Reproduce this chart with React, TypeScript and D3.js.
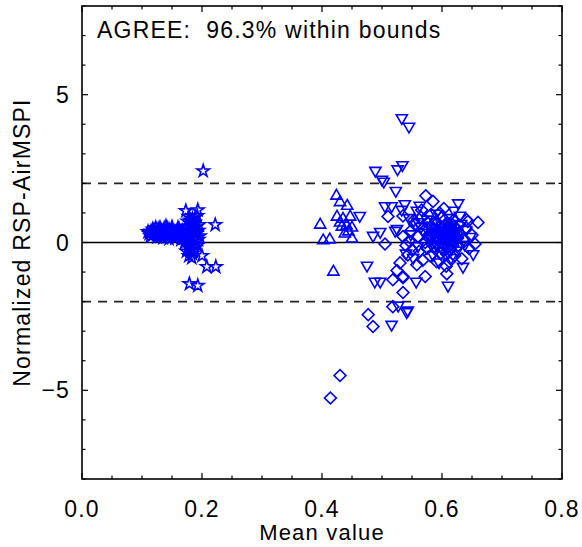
import React from 'react';
import * as d3 from 'd3';

// RSP vs AirMSPI normalized differences
const starPts: [number, number][] = [
  [0.112, 0.30], [0.115, 0.38], [0.118, 0.25], [0.120, 0.42], [0.122, 0.33], [0.125, 0.28],
  [0.127, 0.45], [0.129, 0.36], [0.131, 0.22], [0.133, 0.40], [0.135, 0.31], [0.137, 0.48],
  [0.139, 0.27], [0.141, 0.38], [0.143, 0.19], [0.145, 0.44], [0.147, 0.33], [0.149, 0.25],
  [0.151, 0.40], [0.153, 0.30], [0.155, 0.36], [0.157, 0.22], [0.159, 0.42], [0.161, 0.28],
  [0.163, 0.35], [0.165, 0.18], [0.167, 0.40], [0.169, 0.30], [0.171, 0.24], [0.160, 0.50],
  [0.150, 0.52], [0.140, 0.55], [0.130, 0.50], [0.145, 0.12], [0.155, 0.14], [0.165, 0.10],
  [0.135, 0.16], [0.125, 0.18], [0.118, 0.45], [0.110, 0.36], [0.114, 0.22], [0.123, 0.50],
  [0.132, 0.30], [0.142, 0.48], [0.152, 0.20], [0.158, 0.32], [0.162, 0.45], [0.168, 0.15],
  [0.173, 0.55], [0.176, 0.72], [0.178, 0.88], [0.180, 0.45], [0.182, 0.62], [0.184, 0.80],
  [0.186, 0.35], [0.188, 0.68], [0.190, 0.52], [0.192, 0.90], [0.194, 0.40], [0.196, 0.22],
  [0.175, 0.10], [0.178, 0.00], [0.180, -0.12], [0.182, -0.25], [0.184, -0.38], [0.186, -0.05],
  [0.188, -0.20], [0.190, 0.05], [0.192, -0.10], [0.178, -0.45], [0.183, -0.52], [0.174, -0.30],
  [0.187, 0.15], [0.194, 0.10], [0.171, 0.00], [0.176, 0.30], [0.191, 0.30], [0.179, 0.20],
  [0.185, 0.55], [0.181, 0.75], [0.189, 0.85], [0.177, -0.15], [0.185, -0.30], [0.195, 0.60],
  [0.202, 2.42], [0.173, 1.07], [0.193, 1.10], [0.222, 0.60], [0.200, -0.45], [0.208, -0.82],
  [0.223, -0.82], [0.179, -1.40], [0.193, -1.46],
];

const upTriPts: [number, number][] = [
  [0.424, 1.61], [0.430, 1.39], [0.442, 1.27], [0.397, 0.63], [0.425, 0.90], [0.435, 0.83],
  [0.447, 0.90], [0.433, 0.56], [0.441, 0.60], [0.450, 0.53], [0.438, 0.33], [0.402, 0.10],
  [0.413, 0.13], [0.450, 0.16], [0.419, -0.96], [0.430, 0.70], [0.444, 0.40],
];

const downTriPts: [number, number][] = [
  [0.533, 4.18], [0.545, 3.89], [0.534, 2.59], [0.526, 2.45], [0.489, 2.40], [0.500, 2.10],
  [0.503, 2.03], [0.523, 1.72], [0.505, 1.20], [0.516, 1.20], [0.538, 1.27], [0.533, 1.08],
  [0.563, 1.22], [0.627, 1.30], [0.630, 0.88], [0.463, 0.87], [0.485, 0.20], [0.497, 0.33],
  [0.522, 0.37], [0.475, -0.81], [0.488, -1.35], [0.497, -1.35], [0.557, -1.35], [0.610, -1.49],
  [0.543, -2.33], [0.516, -2.81], [0.527, -2.16], [0.635, -0.85], [0.652, -0.42], [0.647, 0.16],
  [0.541, -2.38], [0.525, 0.43], [0.558, 1.05], [0.560, 0.66],
  [0.575, 0.75], [0.590, 0.95], [0.600, 0.55], [0.612, 0.80], [0.620, 0.35], [0.605, -0.20],
  [0.585, -0.45], [0.595, -0.70], [0.615, -0.55], [0.625, -0.30], [0.570, 0.30], [0.560, -0.15],
  [0.580, 0.10], [0.632, 0.60], [0.640, 0.40], [0.638, -0.10], [0.600, 0.20], [0.590, -0.10],
  [0.565, 0.50], [0.548, 0.25], [0.552, -0.55], [0.540, -0.40], [0.545, 0.80], [0.620, 1.05],
  [0.610, 0.05],
];

const diamondPts: [number, number][] = [
  [0.414, -5.26], [0.430, -4.50], [0.477, -2.44], [0.485, -2.84], [0.518, -2.17], [0.535, -1.69],
  [0.518, -1.26], [0.535, -1.19], [0.572, -1.15], [0.573, 1.58], [0.585, 1.39], [0.510, 0.88],
  [0.535, 0.90], [0.505, -0.05], [0.535, 0.20], [0.530, -0.69], [0.543, -0.42], [0.608, -1.06],
  [0.643, 0.71], [0.660, 0.68], [0.641, 0.77], [0.535, -1.15], [0.525, -0.95],
  [0.555, 0.60], [0.560, 0.20], [0.562, -0.30], [0.565, 0.85], [0.568, -0.60], [0.570, 0.40],
  [0.572, 0.00], [0.575, -0.20], [0.577, 0.65], [0.579, 0.25], [0.580, -0.45], [0.582, 0.95],
  [0.584, 0.10], [0.586, 0.45], [0.588, -0.15], [0.590, 0.70], [0.591, -0.65], [0.593, 0.30],
  [0.595, 0.05], [0.597, 0.55], [0.598, -0.35], [0.600, 0.85], [0.602, 0.15], [0.604, -0.05],
  [0.606, 0.40], [0.607, -0.80], [0.609, 0.65], [0.611, 0.25], [0.613, -0.25], [0.615, 0.50],
  [0.617, 0.00], [0.619, 0.75], [0.621, -0.45], [0.623, 0.20], [0.625, 0.45], [0.627, -0.10],
  [0.630, 0.30], [0.633, -0.55], [0.636, 0.10], [0.640, 0.50], [0.645, -0.20], [0.650, 0.25],
  [0.655, -0.05], [0.585, 0.50], [0.595, 0.35], [0.605, 0.60], [0.615, 0.30], [0.600, -0.20],
  [0.590, 0.20], [0.610, 0.10], [0.620, 0.40], [0.580, 0.30], [0.575, 0.50], [0.598, 0.00],
  [0.608, -0.40], [0.618, -0.10], [0.628, 0.60], [0.550, -0.25], [0.548, 0.40], [0.558, -0.75],
  [0.545, 0.05], [0.540, -0.10], [0.553, 0.75], [0.566, 1.10], [0.596, 1.00], [0.612, -0.65],
  [0.603, 1.15],
  [0.592, 0.42], [0.594, 0.15], [0.599, 0.28], [0.601, 0.48], [0.603, 0.33], [0.606, 0.20],
  [0.608, 0.50], [0.610, 0.35], [0.612, 0.45], [0.614, 0.12], [0.616, 0.62], [0.618, 0.22],
  [0.620, 0.55], [0.622, 0.05], [0.624, 0.32], [0.587, 0.28], [0.589, 0.60], [0.597, -0.12],
  [0.604, -0.25], [0.611, -0.15], [0.619, 0.10], [0.626, 0.15], [0.583, -0.05], [0.578, 0.15],
];

const xMajor = [0, 0.2, 0.4, 0.6, 0.8];
const yMajor = [-5, 0, 5];
const bounds = [-2, 2];
const agreeText = 'AGREE:  96.3% within bounds';

const W = 582, H = 547;
const left = 82, right = 562, top = 6, bottom = 479;
const blue = '#0000ff';
const font = '"Liberation Sans", Arial, Helvetica, sans-serif';

export default function App() {
  const x = d3.scaleLinear().domain([0, 0.8]).range([left, right]);
  const y = d3.scaleLinear().domain([-8, 8]).range([bottom, top]);

  const xMinor = d3.range(0, 0.8001, 0.05);
  const yMinor = d3.range(-8, 8.001, 1);

  const star = d3.symbol().type(d3.symbolStar).size(48)()!;
  const tri = d3.symbol().type(d3.symbolTriangle).size(54)()!;
  const sq = d3.symbol().type(d3.symbolSquare).size(70)()!;

  const isMajorX = (v: number) => xMajor.some(m => Math.abs(m - v) < 1e-6);
  const isMajorY = (v: number) => yMajor.some(m => Math.abs(m - v) < 1e-6);

  const fmtY = (v: number) => (v < 0 ? '\u2212' + Math.abs(v) : String(v));

  return (
    <svg width={W} height={H} style={{ position: 'absolute', left: 0, top: 0 }} fontFamily={font}>
      <rect width={W} height={H} fill="#fff" />

      {/* reference lines */}
      <line x1={left} x2={right} y1={y(0)} y2={y(0)} stroke="#000" strokeWidth={1.6} />
      {bounds.map(b => (
        <line key={b} x1={left} x2={right} y1={y(b)} y2={y(b)} stroke="#222" strokeWidth={1.8} strokeDasharray="9,7" />
      ))}

      {/* markers */}
      <g fill="none" stroke={blue} strokeWidth={1.6}>
        {starPts.map((p, i) => (
          <path key={'s' + i} d={star} transform={`translate(${x(p[0])},${y(p[1])})`} />
        ))}
        {upTriPts.map((p, i) => (
          <path key={'u' + i} d={tri} transform={`translate(${x(p[0])},${y(p[1]) + 1})`} />
        ))}
        {downTriPts.map((p, i) => (
          <path key={'d' + i} d={tri} transform={`translate(${x(p[0])},${y(p[1]) - 1}) rotate(180)`} />
        ))}
        {diamondPts.map((p, i) => (
          <path key={'m' + i} d={sq} transform={`translate(${x(p[0])},${y(p[1])}) rotate(45)`} />
        ))}
      </g>

      {/* frame */}
      <rect x={left} y={top} width={right - left} height={bottom - top} fill="none" stroke="#000" strokeWidth={1.6} />

      {/* ticks on all sides */}
      <g stroke="#000" strokeWidth={1.2}>
        {xMinor.map(v => {
          const len = isMajorX(v) ? 6 : 3.5;
          return (
            <g key={'xt' + v}>
              <line x1={x(v)} x2={x(v)} y1={bottom} y2={bottom - len} />
              <line x1={x(v)} x2={x(v)} y1={top} y2={top + len} />
            </g>
          );
        })}
        {yMinor.map(v => {
          const len = isMajorY(v) ? 6 : 3.5;
          return (
            <g key={'yt' + v}>
              <line x1={left} x2={left + len} y1={y(v)} y2={y(v)} />
              <line x1={right} x2={right - len} y1={y(v)} y2={y(v)} />
            </g>
          );
        })}
      </g>

      {/* tick labels */}
      <g fontSize={23} letterSpacing={1.2} fill="#000">
        {xMajor.map(v => (
          <text key={'xl' + v} x={x(v)} y={517} textAnchor="middle">{v.toFixed(1)}</text>
        ))}
        {yMajor.map(v => (
          <text key={'yl' + v} x={70} y={y(v) + 8} textAnchor="end">{fmtY(v)}</text>
        ))}
      </g>

      {/* axis titles */}
      <text x={(left + right) / 2} y={540} fontSize={22} letterSpacing={1.2} textAnchor="middle" fill="#000">Mean value</text>
      <text transform={`translate(30,${(top + bottom) / 2}) rotate(-90)`} fontSize={23} letterSpacing={1.2} textAnchor="middle" fill="#000">
        Normalized RSP-AirMSPI
      </text>

      {/* annotation */}
      <text x={97} y={38} fontSize={23} letterSpacing={1.2} fill="#000" style={{ whiteSpace: 'pre' }}>{agreeText}</text>
    </svg>
  );
}
